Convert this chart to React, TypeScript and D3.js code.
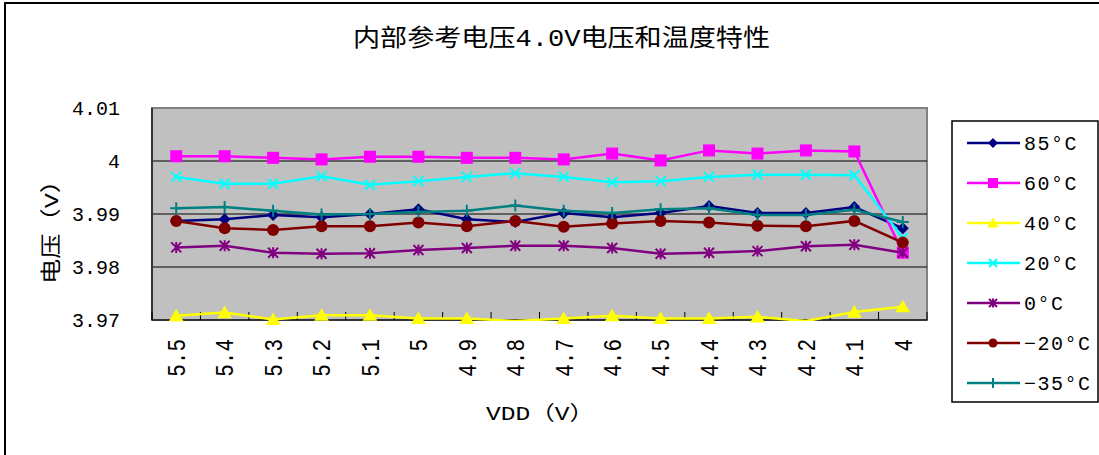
import React from "react";
import * as d3 from "d3";

const categories = ["5.5", "5.4", "5.3", "5.2", "5.1", "5", "4.9", "4.8", "4.7", "4.6", "4.5", "4.4", "4.3", "4.2", "4.1", "4"];

const t85 = [3.9887, 3.989, 3.9898, 3.9894, 3.99, 3.9909, 3.989, 3.9885, 3.9902, 3.9894, 3.9902, 3.9915, 3.9902, 3.9902, 3.9913, 3.9873];
const t60 = [4.0009, 4.0009, 4.0006, 4.0003, 4.0008, 4.0008, 4.0006, 4.0006, 4.0003, 4.0014, 4.0001, 4.002, 4.0014, 4.002, 4.0018, 3.9827];
const t40 = [3.9708, 3.9714, 3.9701, 3.9709, 3.9709, 3.9703, 3.9703, 3.9698, 3.9703, 3.9708, 3.9703, 3.9703, 3.9706, 3.9698, 3.9715, 3.9725];
const t20 = [3.997, 3.9957, 3.9957, 3.9971, 3.9955, 3.9962, 3.997, 3.9977, 3.997, 3.996, 3.9962, 3.997, 3.9974, 3.9974, 3.9973, 3.9855];
const t0 = [3.9837, 3.984, 3.9827, 3.9825, 3.9826, 3.9832, 3.9836, 3.984, 3.984, 3.9836, 3.9825, 3.9827, 3.983, 3.9839, 3.9842, 3.9827];
const tm20 = [3.9887, 3.9873, 3.987, 3.9877, 3.9877, 3.9884, 3.9877, 3.9887, 3.9876, 3.9882, 3.9887, 3.9884, 3.9878, 3.9877, 3.9887, 3.9846];
const tm35 = [3.9911, 3.9913, 3.9906, 3.9899, 3.99, 3.9904, 3.9906, 3.9916, 3.9906, 3.9902, 3.9909, 3.9911, 3.9898, 3.9898, 3.9908, 3.9885];

const seriesNames = ["85°C", "60°C", "40°C", "20°C", "0°C", "−20°C", "−35°C"];
const seriesColors = ["#000080", "#FF00FF", "#FFFF00", "#00FFFF", "#800080", "#800000", "#008080"];
const seriesMarkers = ["diamond", "square", "triangle", "x", "asterisk", "circle", "plus"];
const seriesValues = [t85, t60, t40, t20, t0, tm20, tm35];

const yTicks = [3.97, 3.98, 3.99, 4.0, 4.01];
const yDomain = [3.97, 4.01];

const title = "内部参考电压4.0V电压和温度特性";
const xTitle = "VDD（V）";
const yTitle = "电压（V）";

const FONT = "'Liberation Mono', 'Noto Sans CJK SC', monospace";

function Marker({ kind, x, y, color, s }: { kind: string; x: number; y: number; color: string; s: number }) {
  switch (kind) {
    case "diamond":
      return <path d={`M${x},${y - s}L${x + s},${y}L${x},${y + s}L${x - s},${y}Z`} fill={color} />;
    case "square":
      return <rect x={x - s} y={y - s} width={2 * s} height={2 * s} fill={color} />;
    case "triangle":
      return <path d={`M${x},${y - s}L${x + s * 1.05},${y + s * 0.8}L${x - s * 1.05},${y + s * 0.8}Z`} fill={color} />;
    case "x":
      return (
        <path d={`M${x - s},${y - s}L${x + s},${y + s}M${x - s},${y + s}L${x + s},${y - s}`} stroke={color} strokeWidth={2} fill="none" />
      );
    case "asterisk":
      return (
        <path
          d={`M${x - s},${y - s}L${x + s},${y + s}M${x - s},${y + s}L${x + s},${y - s}M${x},${y - s * 1.1}L${x},${y + s * 1.1}`}
          stroke={color}
          strokeWidth={2}
          fill="none"
        />
      );
    case "circle":
      return <circle cx={x} cy={y} r={s} fill={color} />;
    case "plus":
      return (
        <path d={`M${x - s},${y}L${x + s},${y}M${x},${y - s}L${x},${y + s}`} stroke={color} strokeWidth={2} fill="none" />
      );
  }
  return null;
}

const chartMarkerSize: Record<string, number> = {
  diamond: 6,
  square: 6,
  triangle: 7,
  x: 5,
  asterisk: 5,
  circle: 6,
  plus: 6,
};
const legendMarkerSize: Record<string, number> = {
  diamond: 5,
  square: 5,
  triangle: 5.5,
  x: 4,
  asterisk: 4,
  circle: 4.5,
  plus: 5,
};

export default function App() {
  const W = 1099;
  const H = 455;
  const left = 152;
  const right = 927;
  const top = 108;
  const bottom = 320;

  const x = d3.scaleBand<string>().domain(categories).range([left, right]).padding(0);
  const y = d3.scaleLinear().domain(yDomain).range([bottom, top]);
  const cx = (c: string) => (x(c) as number) + x.bandwidth() / 2;

  const line = d3
    .line<number>()
    .x((_, i) => cx(categories[i]))
    .y((v) => y(v));

  const fmt = (v: number) => String(+v.toFixed(2));

  const legendX = 952;
  const legendY = 121;
  const legendRowY = (i: number) => 143 + i * 40;

  return (
    <svg width={W} height={H} style={{ position: "absolute", left: 0, top: 0, background: "#fff" }} fontFamily={FONT}>
      <defs>
        <clipPath id="plotClip">
          <rect x={left} y={top - 10} width={right - left} height={bottom - top + 11} />
        </clipPath>
      </defs>
      <rect x={0} y={0} width={W} height={H} fill="#fff" />
      <rect x={5} y={3} width={W + 50} height={H + 50} fill="none" stroke="#000" strokeWidth={2} />

      <text x={353} y={46} fontSize={24} textLength={417} lengthAdjust="spacingAndGlyphs" fill="#000">
        {title}
      </text>

      {/* plot area */}
      <rect x={left} y={top} width={right - left} height={bottom - top} fill="#C0C0C0" stroke="#808080" strokeWidth={2} />
      {yTicks
        .filter((t) => t > yDomain[0] && t < yDomain[1])
        .map((t) => (
          <line key={t} x1={left} x2={right} y1={y(t)} y2={y(t)} stroke="#000" strokeWidth={1.2} />
        ))}
      <line x1={left} x2={left} y1={top} y2={bottom} stroke="#333" strokeWidth={2} />
      <line x1={left} x2={right} y1={bottom} y2={bottom} stroke="#333" strokeWidth={2} />
      {categories.map((c) => (
        <line key={"t" + c} x1={x(c) as number} x2={x(c) as number} y1={bottom} y2={bottom - 8} stroke="#000" strokeWidth={1} />
      ))}
      <line x1={right} x2={right} y1={bottom} y2={bottom - 8} stroke="#000" strokeWidth={1} />

      {/* y tick labels */}
      {yTicks.map((t) => (
        <text key={"yl" + t} x={120} y={y(t)} dy="0.35em" textAnchor="end" fontSize={20} fill="#000">
          {fmt(t)}
        </text>
      ))}

      {/* x tick labels */}
      {categories.map((c) => (
        <text
          key={"xl" + c}
          transform={`translate(${cx(c)},339) rotate(-90) scale(1,1.2)`}
          dy="0.35em"
          textAnchor="end"
          fontSize={21}
          fill="#000"
        >
          {c}
        </text>
      ))}

      <text x={540} y={420} textAnchor="middle" fontSize={20} textLength={108} lengthAdjust="spacingAndGlyphs" fill="#000">
        {xTitle}
      </text>
      <text
        transform="translate(58,226) rotate(-90)"
        textAnchor="middle"
        fontSize={21}
        textLength={116}
        lengthAdjust="spacingAndGlyphs"
        fill="#000"
      >
        {yTitle}
      </text>

      {/* series */}
      {seriesValues.map((vals, si) => (
        <g key={"s" + si}>
          <path d={line(vals) || ""} fill="none" stroke={seriesColors[si]} strokeWidth={2.5} clipPath="url(#plotClip)" />
          {vals.map((v, i) =>
            v >= yDomain[0] ? (
              <Marker
                key={i}
                kind={seriesMarkers[si]}
                x={cx(categories[i])}
                y={y(v)}
                color={seriesColors[si]}
                s={chartMarkerSize[seriesMarkers[si]]}
              />
            ) : null
          )}
        </g>
      ))}

      {/* legend */}
      <rect x={legendX} y={legendY} width={146} height={281} fill="#fff" stroke="#000" strokeWidth={1.5} />
      {seriesNames.map((n, i) => (
        <g key={"lg" + i}>
          <line x1={967} x2={1020} y1={legendRowY(i)} y2={legendRowY(i)} stroke={seriesColors[i]} strokeWidth={2.5} />
          <Marker kind={seriesMarkers[i]} x={993} y={legendRowY(i)} color={seriesColors[i]} s={legendMarkerSize[seriesMarkers[i]]} />
          <text x={1024} y={legendRowY(i)} dy="0.35em" fontSize={20} letterSpacing={1.5} fill="#000">
            {n}
          </text>
        </g>
      ))}
    </svg>
  );
}
